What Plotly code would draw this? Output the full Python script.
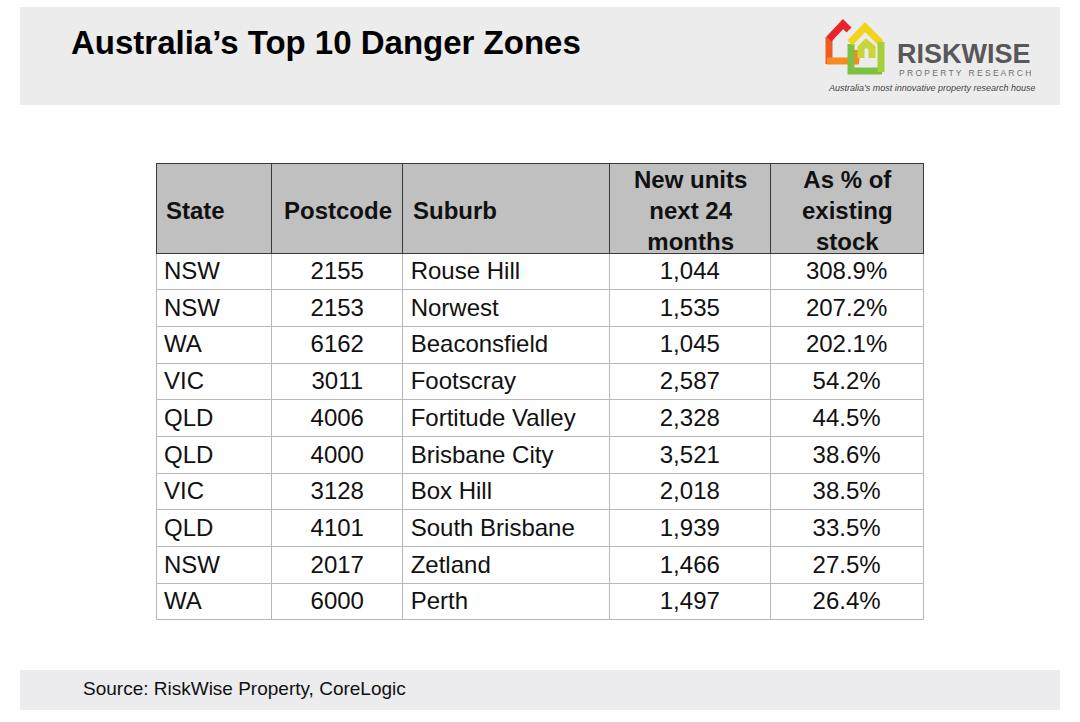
import plotly.graph_objects as go

W, H = 1080, 722

# table data
states = ['NSW', 'NSW', 'WA', 'VIC', 'QLD', 'QLD', 'VIC', 'QLD', 'NSW', 'WA']
postcodes = ['2155', '2153', '6162', '3011', '4006', '4000', '3128', '4101', '2017', '6000']
suburbs = ['Rouse Hill', 'Norwest', 'Beaconsfield', 'Footscray', 'Fortitude Valley',
           'Brisbane City', 'Box Hill', 'South Brisbane', 'Zetland', 'Perth']
new_units = [1044, 1535, 1045, 2587, 2328, 3521, 2018, 1939, 1466, 1497]
pct_stock = [308.9, 207.2, 202.1, 54.2, 44.5, 38.6, 38.5, 33.5, 27.5, 26.4]
headers = ['State', 'Postcode', 'Suburb',
           'New units<br>next 24<br>months', 'As % of<br>existing<br>stock']
col_align = ['left', 'center', 'left', 'center', 'center']
col_widths = [116, 131, 207, 161, 153]

title = 'Australia’s Top 10 Danger Zones'
source = 'Source: RiskWise Property, CoreLogic'

FONT = 'Liberation Sans, Arial, Helvetica, sans-serif'

# table placement in pixels
TX0, TY0 = 156, 163
HEAD_H, ROW_H = 90, 36.7


def px_x(x):
    return x / W


def px_y(y):
    return 1 - y / H


fig = go.Figure()

fig.add_trace(go.Table(
    domain=dict(x=[px_x(TX0), px_x(TX0 + sum(col_widths))], y=[px_y(640), px_y(TY0)]),
    columnwidth=col_widths,
    header=dict(
        values=[''] * len(headers),
        fill_color='#c0c0c0',
        line=dict(color='#3a3a3a', width=1),
        height=HEAD_H,
    ),
    cells=dict(
        values=[states, postcodes, suburbs,
                ['{:,}'.format(v) for v in new_units],
                ['{:.1f}%'.format(v) for v in pct_stock]],
        fill_color='white',
        line=dict(color='#b8b8b8', width=1),
        align=col_align,
        font=dict(family=FONT, size=24, color='#111111'),
        height=ROW_H,
    ),
))

shapes = [
    # header band
    dict(type='rect', xref='paper', yref='paper', x0=px_x(20), x1=px_x(1060),
         y0=px_y(105), y1=px_y(7), fillcolor='#ececec', line_width=0, layer='below'),
    # footer band
    dict(type='rect', xref='paper', yref='paper', x0=px_x(20), x1=px_x(1060),
         y0=px_y(710), y1=px_y(670), fillcolor='#ececee', line_width=0, layer='below'),
]

# logo icon, built from thick strokes
logo_strokes = [
    ([(829, 64), (829, 37)], '#ee5a24'),
    ([(829, 39), (843, 24), (849, 30)], '#e8242a'),
    ([(827, 61), (859, 61)], '#f58a1f'),
    ([(856, 61), (856, 50)], '#f58a1f'),
    ([(851, 44), (851, 71), (882, 71)], '#7cc242'),
    ([(850, 43), (865, 27), (881, 43)], '#f2d41c'),
    ([(881, 42), (881, 72)], '#a8cf3a'),
    ([(861, 58), (861, 48), (866, 43), (872, 48), (872, 58)], '#c8d63a'),
]
for pts, col in logo_strokes:
    path = 'M ' + ' L '.join('%f,%f' % (px_x(x), px_y(y)) for x, y in pts)
    shapes.append(dict(type='path', xref='paper', yref='paper', path=path,
                       line=dict(color=col, width=7), layer='above'))

annotations = [
    dict(text='<b>%s</b>' % title, x=px_x(69), y=px_y(43), xanchor='left', yanchor='middle',
         font=dict(family=FONT, size=33, color='#000000')),
    dict(text='<b>RISKWISE</b>', x=px_x(895), y=px_y(54), xanchor='left', yanchor='middle',
         height=22, font=dict(family=FONT, size=27, color='#58585a')),
    dict(text='P R O P E R T Y   R E S E A R C H', x=px_x(897), y=px_y(72),
         xanchor='left', yanchor='middle', height=9,
         font=dict(family=FONT, size=8.5, color='#6d6e70')),
    dict(text='<i>Australia’s most innovative property research house</i>', x=px_x(826),
         y=px_y(88), xanchor='left', yanchor='middle', height=10,
         font=dict(family=FONT, size=9, color='#444444')),
    dict(text=source, x=px_x(81), y=px_y(688), xanchor='left', yanchor='middle',
         font=dict(family=FONT, size=19, color='#111111')),
]

# header labels, centred line by line in their columns
left = TX0
for label, wd, al in zip(headers, col_widths, col_align):
    bold = '<br>'.join('<b>%s</b>' % part for part in label.split('<br>'))
    if al == 'left':
        x, xanchor = left + 8, 'left'
    else:
        x, xanchor = left + wd / 2, 'center'
    annotations.append(dict(text=bold, x=px_x(x), y=px_y(TY0 + HEAD_H / 2 + 2),
                            xanchor=xanchor, yanchor='middle', align=al,
                            font=dict(family=FONT, size=24, color='#111111')))
    left += wd

for a in annotations:
    a.update(xref='paper', yref='paper', showarrow=False)

fig.update_layout(
    width=W, height=H,
    margin=dict(l=0, r=0, t=0, b=0),
    paper_bgcolor='white',
    plot_bgcolor='white',
    shapes=shapes,
    annotations=annotations,
)

fig.write_html('out.html', config={'displayModeBar': False},
               post_script="document.body.style.margin='0';")
